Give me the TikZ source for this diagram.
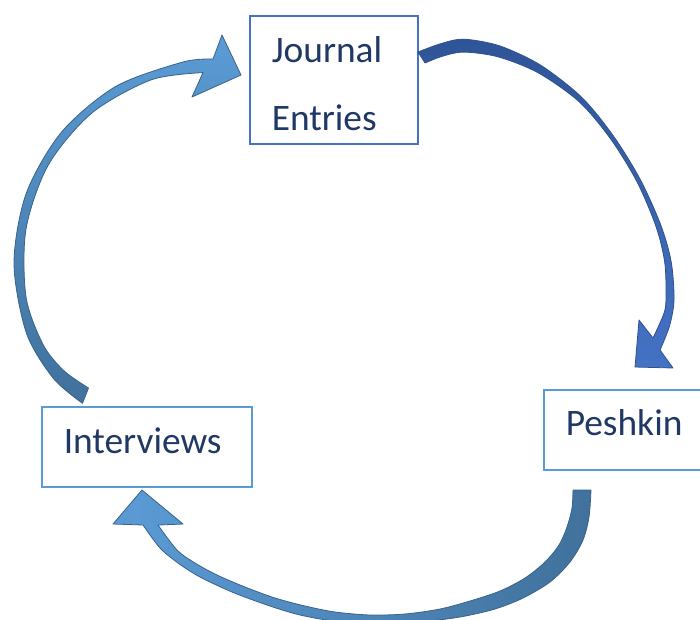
\documentclass[tikz,border=0pt]{standalone}
\usepackage{fontspec}
\setmainfont{Carlito}
\definecolor{boxLineColor}{RGB}{68,114,196}
\definecolor{boxLightColor}{RGB}{91,155,213}
\definecolor{labelColor}{RGB}{31,56,100}
\definecolor{arrowNavy}{RGB}{47,85,151}
\definecolor{arrowRoyal}{RGB}{68,114,196}
\definecolor{arrowSteel}{RGB}{65,113,156}
\definecolor{arrowSky}{RGB}{91,155,213}
\definecolor{arrowEdgeNavy}{RGB}{47,82,143}
\definecolor{arrowEdgeSteel}{RGB}{56,99,140}
\tikzset{
	source/.style = {
		draw = boxLightColor, line width = 1.5pt, anchor = north west,
		inner xsep = 22pt, inner ysep = 0pt, align = left,
		text = labelColor, font = \fontsize{37.4}{68}\selectfont
	},
	cycleArrowStyle/.style = {
		draw = arrowEdgeSteel, line width = 0.8pt, line join = round
	}
}

\begin{document}
\begin{tikzpicture}[x=1pt, y=-1pt]
	\useasboundingbox (0,0) rectangle (700,619);
	\clip (0,0) rectangle (700,619);

	\node [source, draw = boxLineColor, text width = 124pt, text height = 47pt, text depth = 81pt] (JE) at (249,15) {Journal\\Entries};
	\node [source, text width = 160pt, text height = 46pt, text depth = 34pt] (PE) at (543,389) {Peshkin};
	\node [source, text width = 166pt, text height = 47pt, text depth = 33pt] (IV) at (41,406) {Interviews};

	% Journal Entries -> Peshkin
	\shadedraw [cycleArrowStyle, draw = arrowEdgeNavy, top color = arrowNavy, bottom color = arrowRoyal]
		plot [smooth] coordinates {(418,52) (441.6,43.4) (464.1,39.2) (499.8,45.9) (540.5,65.1) (581.7,97.3) (613.4,136) (640.3,179.6) (660.8,225.1) (671.2,261.9) (674,300) (669.4,326.3) (660,350)}
		-- (673,368) -- (635,367) -- (639,320)
		-- plot [smooth] coordinates {(653,338) (663.5,314.6) (666,300) (664.8,263) (656.1,226.8) (637,181.8) (610.6,138.9) (579,101.6) (537.8,72.6) (497.9,56.8) (463.7,52.1) (442.2,56.3) (425,63)}
		-- cycle;

	% Peshkin -> Interviews
	\shadedraw [cycleArrowStyle, left color = arrowSky, right color = arrowSteel]
		plot [smooth] coordinates {(591,490) (589,517) (583,540) (570,562) (550,582) (523,598) (495,609) (460,617) (420,622) (380,624) (340,622) (300,615) (267,605) (232,592) (200,577) (178,563) (160,548) (143,525)}
		-- (113,524) -- (142,490) -- (183,524)
		-- plot [smooth] coordinates {(158,525) (177,550) (195,563) (217,575) (245,587) (275,598) (305,606) (335,612) (370,615) (405,614) (440,609) (470,601) (500,591) (525,578) (545,562) (559,545) (567,527) (572,508) (573,490)}
		-- cycle;

	% Interviews -> Journal Entries
	\shadedraw [cycleArrowStyle, top color = arrowSky, bottom color = arrowSteel]
		plot [smooth] coordinates {(82.5,403.3) (53.3,378.3) (26.3,332.8) (14,263) (26.3,193.2) (61.7,131.9) (116,86.3) (182.6,62.1) (213,59)}
		-- (222,35) -- (241,75) -- (192,97)
		-- plot [smooth] coordinates {(203,72.6) (151.3,79.8) (92,112.9) (48.3,165) (26,229.1) (26,296.9) (43.1,344.6) (64,370.8) (88.5,388)}
		-- cycle;
\end{tikzpicture}
\end{document}
